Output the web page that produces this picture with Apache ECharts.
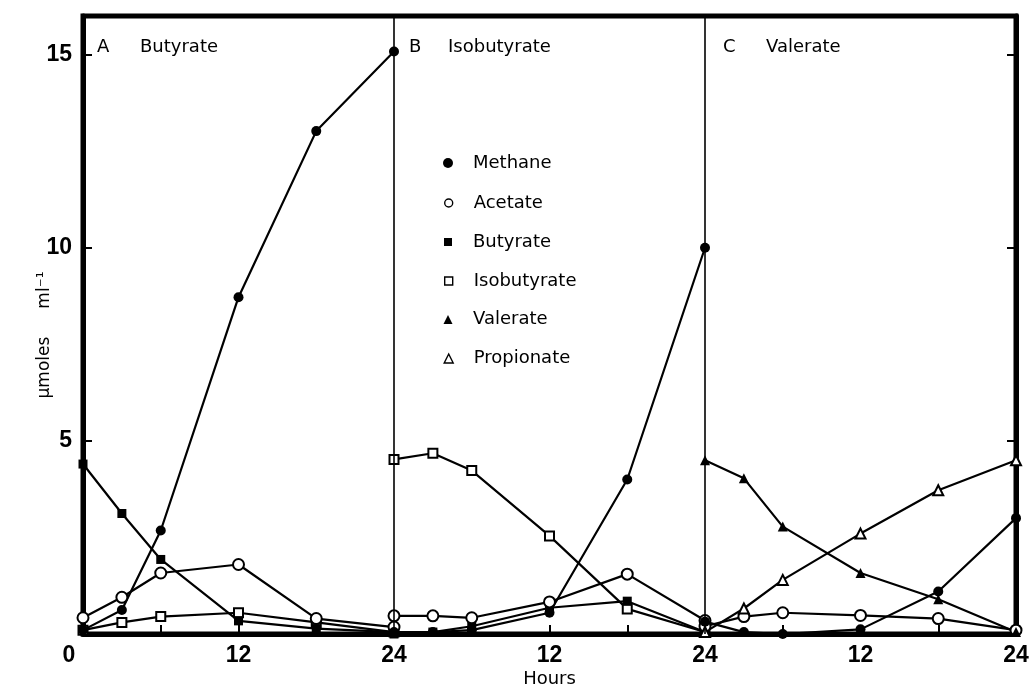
<!DOCTYPE html>
<html>
<head>
<meta charset="utf-8">
<script src="https://cdn.jsdelivr.net/npm/echarts@6/dist/echarts.min.js"></script>
<style>
html,body{margin:0;padding:0;background:#fff;}
#chart{width:1029px;height:689px;}
</style>
</head>
<body>
<div id="chart"></div>
<script>
// ---- data ----
var hours = [0, 3, 6, 12, 18, 24];
var panelNames = ['Butyrate', 'Isobutyrate', 'Valerate'];
var panelLetters = ['A', 'B', 'C'];
var xTickLabels = ['0', '12', '24', '12', '24', '12', '24'];

// Panel A: Butyrate
var methaneA     = [0.10, 0.62, 2.68, 8.72, 13.02, 15.08];
var acetateA     = [0.42, 0.95, 1.58, 1.80, 0.40, 0.18];
var butyrateA    = [4.40, 3.12, 1.93, 0.34, 0.14, 0.05];
var isobutyrateA = [0.10, 0.30, 0.45, 0.55, 0.30, 0.05];

// Panel B: Isobutyrate
var methaneB     = [0.05, 0.05, 0.10, 0.55, 4.00, 10.00];
var acetateB     = [0.47, 0.47, 0.42, 0.83, 1.55, 0.35];
var butyrateB    = [0.00, 0.05, 0.20, 0.68, 0.85, 0.05];
var isobutyrateB = [4.52, 4.68, 4.23, 2.54, 0.65, 0.05];

// Panel C: Valerate
var methaneC     = [0.32, 0.05, 0.00, 0.12, 1.10, 3.00];
var acetateC     = [0.20, 0.45, 0.55, 0.48, 0.40, 0.10];
var valerateC    = [4.50, 4.03, 2.78, 1.58, 0.90, 0.05];
var propionateC  = [0.05, 0.66, 1.40, 2.60, 3.72, 4.50];

var compounds = ['Methane', 'Acetate', 'Butyrate', 'Isobutyrate', 'Valerate', 'Propionate'];
var symbols = ['circle', 'emptyCircle', 'rect', 'emptyRect', 'triangle', 'emptyTriangle'];

var panels = [
  {offset: 0,  series: {Methane: methaneA, Acetate: acetateA, Butyrate: butyrateA, Isobutyrate: isobutyrateA}},
  {offset: 24, series: {Methane: methaneB, Acetate: acetateB, Butyrate: butyrateB, Isobutyrate: isobutyrateB}},
  {offset: 48, series: {Methane: methaneC, Acetate: acetateC, Valerate: valerateC, Propionate: propionateC}}
];

var symbolSize = {Methane: 10, Acetate: 11, Butyrate: 9, Isobutyrate: 9, Valerate: 10, Propionate: 10};
var legendSize = {Methane: 10, Acetate: 8, Butyrate: 8, Isobutyrate: 8, Valerate: 9, Propionate: 9};

// ---- build ----
var series = [];
panels.forEach(function (p) {
  ['Isobutyrate', 'Butyrate', 'Acetate', 'Propionate', 'Valerate', 'Methane'].forEach(function (name) {
    var vals = p.series[name];
    if (!vals) return;
    var ci = compounds.indexOf(name);
    var empty = symbols[ci].indexOf('empty') === 0;
    series.push({
      type: 'line',
      name: name,
      data: hours.map(function (h, i) { return [p.offset + h, vals[i]]; }),
      symbol: symbols[ci],
      symbolSize: symbolSize[name],
      showAllSymbol: true,
      lineStyle: {color: '#000', width: 2.2},
      itemStyle: {color: '#000', borderColor: '#000', borderWidth: empty ? 1.8 : 0},
      emphasis: {disabled: true},
      z: 3
    });
  });
});
// divider lines between panels, positioned through the x axis
series.push({
  type: 'line', name: '_div', data: [], silent: true,
  markLine: {
    silent: true, symbol: ['none', 'none'], animation: false,
    label: {show: false},
    lineStyle: {color: '#000', width: 1.6, type: 'solid'},
    emphasis: {disabled: true},
    data: [{xAxis: 24}, {xAxis: 48}]
  }
});

var legendData = compounds.map(function (c, i) {
  var empty = symbols[i].indexOf('empty') === 0;
  var base = symbols[i].replace('empty', '').toLowerCase();
  return {
    name: c, icon: base,
    itemStyle: empty ? {color: '#fff', borderColor: '#000', borderWidth: 1.4} : {color: '#000', borderColor: '#000', borderWidth: 0}
  };
});

var chart = echarts.init(document.getElementById('chart'), null, {renderer: 'canvas'});
var labelFont = 'Liberation Sans';
var textFont = 'DejaVu Sans';

var titleGraphics = [];
var titleLeft = [[97, 140], [409, 448], [723, 766]];
panelNames.forEach(function (n, i) {
  titleGraphics.push({type: 'text', left: titleLeft[i][0], top: 38,
    style: {text: panelLetters[i], font: '18px "' + textFont + '"', fill: '#000'}});
  titleGraphics.push({type: 'text', left: titleLeft[i][1], top: 38,
    style: {text: n, font: '18px "' + textFont + '"', fill: '#000'}});
});

// one legend per item so each icon can have its own size
var legends = compounds.map(function (c, i) {
  var sz = legendSize[c];
  return {
    orient: 'vertical', left: 448 - sz / 2, top: 154 + i * 39 + (10 - sz) / 2,
    itemWidth: sz, itemHeight: sz, padding: 0,
    selectedMode: false,
    textStyle: {fontFamily: textFont, fontSize: 18, color: '#000', padding: [0, 0, 0, 20 - sz / 2]},
    data: [legendData[i]]
  };
});

chart.setOption({
  animation: false,
  backgroundColor: '#fff',
  grid: {left: 83, right: 13, top: 16, bottom: 55, show: true, borderColor: '#000', borderWidth: 5,
         containLabel: false, outerBoundsMode: 'none'},
  legend: legends,
  xAxis: {
    type: 'value', min: 0, max: 72, interval: 6,
    name: 'Hours', nameLocation: 'middle', nameGap: 36, nameMoveOverlap: false,
    nameTextStyle: {fontFamily: textFont, fontSize: 18, color: '#000'},
    axisLine: {show: true, lineStyle: {color: '#000', width: 5}},
    axisTick: {show: true, inside: true, length: 9, lineStyle: {color: '#000', width: 2}},
    splitLine: {show: false},
    axisLabel: {
      margin: 10, color: '#000', fontFamily: labelFont, fontWeight: 'bold', fontSize: 23,
      formatter: function (v) {
        if (v % 12 !== 0) return '';
        var lab = xTickLabels[v / 12];
        if (v === 0) return '{z|' + lab + '}';
        return lab;
      },
      rich: {z: {fontFamily: labelFont, fontWeight: 'bold', fontSize: 23, color: '#000', padding: [0, 28, 0, 0]}}
    }
  },
  yAxis: [{
    type: 'value', min: 0, max: 16, interval: 5, position: 'left',
    name: '{a|μmoles}{b|ml⁻¹}', nameLocation: 'middle', nameRotate: 90, nameGap: 30, nameMoveOverlap: false,
    nameTextStyle: {
      rich: {
        a: {fontFamily: textFont, fontSize: 17, color: '#000'},
        b: {fontFamily: textFont, fontSize: 17, color: '#000', padding: [0, 20, 0, 28]}
      }
    },
    axisLine: {show: true, lineStyle: {color: '#000', width: 5}},
    axisTick: {show: true, inside: true, length: 9, lineStyle: {color: '#000', width: 2}},
    splitLine: {show: false},
    axisLabel: {
      margin: 11, color: '#000', fontFamily: labelFont, fontWeight: 'bold', fontSize: 23,
      formatter: function (v) { return (v === 0 || v % 5 !== 0) ? '' : String(v); }
    }
  }, {
    type: 'value', min: 0, max: 16, interval: 5, position: 'right',
    axisLine: {show: true, lineStyle: {color: '#000', width: 5}},
    axisTick: {show: true, inside: true, length: 9, lineStyle: {color: '#000', width: 2}},
    splitLine: {show: false},
    axisLabel: {show: false}
  }],
  graphic: titleGraphics,
  series: series
});
</script>
</body>
</html>
